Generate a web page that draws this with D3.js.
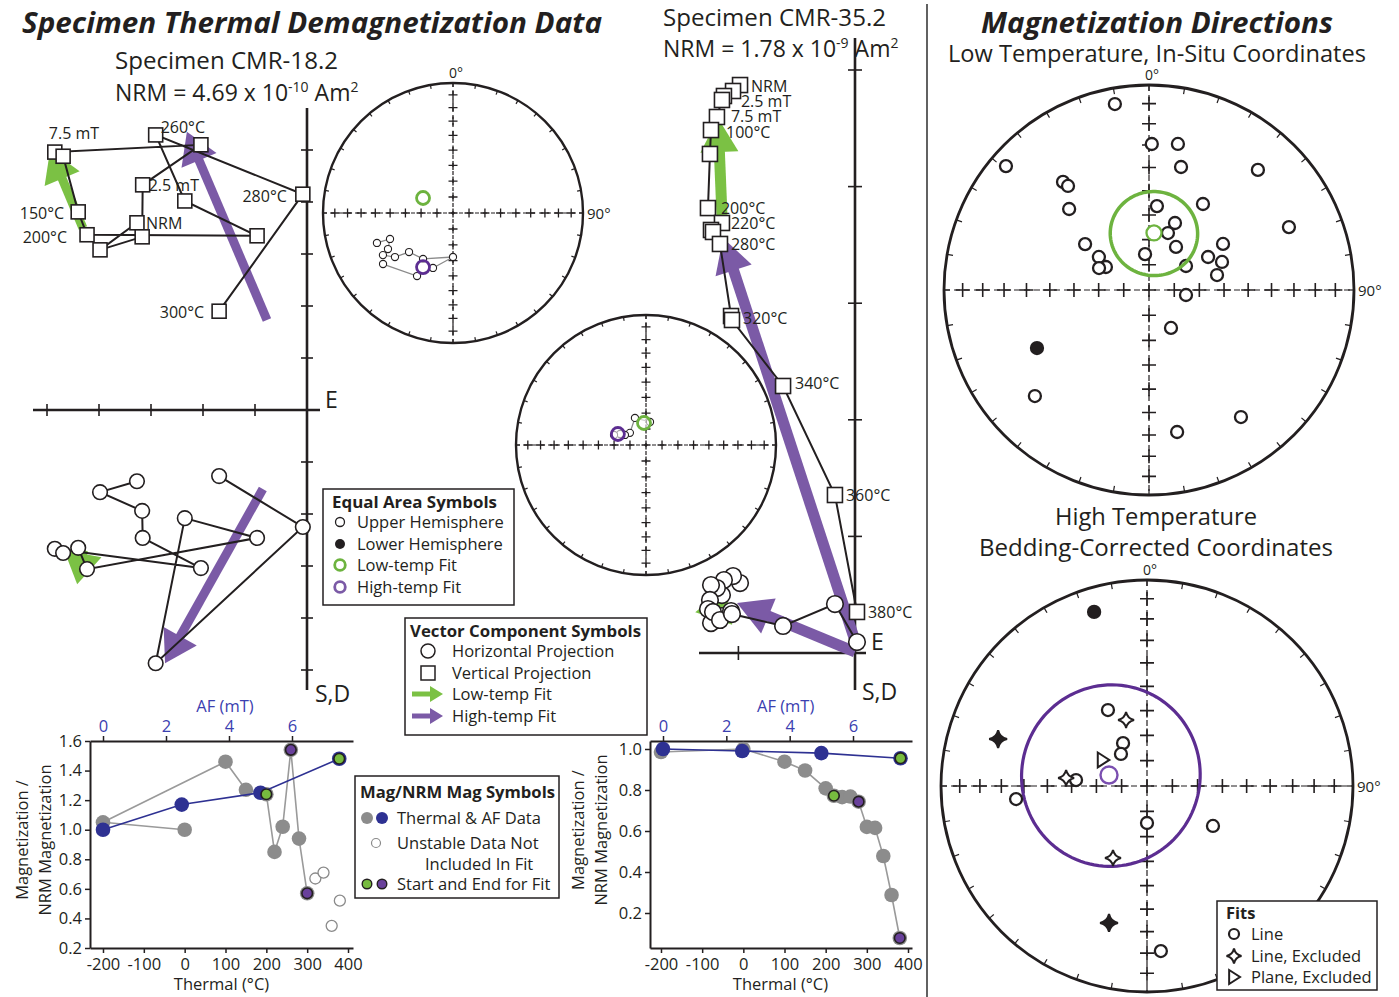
<!DOCTYPE html>
<html>
<head>
<meta charset="utf-8">
<script src="https://cdn.jsdelivr.net/npm/d3@7/dist/d3.min.js"></script>
<style>
  html, body { margin: 0; padding: 0; background: #fff; }
  svg { display: block; }
</style>
</head>
<body>
<svg id="fig" width="1399" height="997" xmlns="http://www.w3.org/2000/svg"></svg>
<script>
const RAD = Math.PI / 180;

/* ================= DATA ================= */

// Specimen CMR-18.2 demagnetization steps (Zijderveld units = one axis tick)
const stepsA      = ["NRM", "LN2", "0°C", "2.5 mT", "5 mT", "7.5 mT", "100°C", "150°C", "200°C", "220°C", "240°C", "260°C", "280°C", "300°C"];
const zijA_h      = [-3.27, -3.98, -3.17, -3.16, -2.04, -4.85, -4.69, -4.40, -4.23, -0.96, -2.35, -2.91, -0.08, -1.69];
const zijA_vert   = [ 3.60,  3.08,  3.33,  4.33,  5.10,  4.96,  4.88,  3.81,  3.37,  3.35,  4.02,  5.29,  4.15,  1.90];
const zijA_horiz  = [-1.37, -1.58, -1.94, -2.46, -3.04, -2.67, -2.75, -2.65, -3.06, -2.46, -2.08, -4.87, -2.25, -1.27];
const labelsA     = ["NRM", "2.5 mT", "7.5 mT", "150°C", "200°C", "260°C", "280°C", "300°C"];
// principal-component fits: [projection, component, fromH, fromV, toH, toV]
const fitsA = [
  ["vert",  "low",  -4.31,  3.50, -4.94,  5.00],
  ["horiz", "low",  -4.30, -2.70, -4.42, -3.35],
  ["vert",  "high", -0.77,  1.73, -2.31,  5.35],
  ["horiz", "high", -0.85, -1.52, -2.73, -4.87]
];

// Specimen CMR-35.2 demagnetization steps
const stepsB      = ["NRM", "LN2", "2.5 mT", "5 mT", "7.5 mT", "100°C", "150°C", "200°C", "220°C", "240°C", "260°C", "280°C", "300°C", "320°C", "340°C", "360°C", "380°C"];
const zijB_h      = [-0.986, -1.046, -1.124, -1.141, -1.184, -1.235, -1.244, -1.261, -1.141, -1.235, -1.218, -1.158, -1.063, -1.055, -0.617, -0.172, 0.017];
const zijB_vert   = [ 4.871,  4.820,  4.777,  4.743,  4.597,  4.485,  4.280,  3.816,  3.688,  3.628,  3.611,  3.508,  2.890,  2.856,  2.290,  1.355, 0.352];
const zijB_horiz  = [ 0.600,  0.660,  0.626,  0.497,  0.557,  0.583,  0.455,  0.377,  0.317,  0.257,  0.352,  0.283,  0.360,  0.334,  0.232,  0.420, 0.094];
const labelsB     = ["NRM", "2.5 mT", "7.5 mT", "100°C", "200°C", "220°C", "280°C", "320°C", "340°C", "360°C", "380°C"];
const fitsB = [
  ["vert",  "low",  -1.141, 3.756, -1.175, 4.588],
  ["horiz", "low",  -1.100, 0.400, -1.370, 0.350],
  ["vert",  "high",  0.026, 0.026, -1.132, 3.559],
  ["horiz", "high",  0.000, 0.009, -1.012, 0.429]
];

// Magnetization / NRM magnetization
const thermalTicks = [-200, -100, 0, 100, 200, 300, 400];
const afTicks      = [0, 2, 4, 6];
const magA_T   = [0, -200, 100, 150, 200, 220, 240, 260, 280, 300];
const magA_Tv  = [1.00, 1.05, 1.46, 1.27, 1.24, 0.85, 1.02, 1.54, 0.94, 0.57];
const magA_AF  = [0, 2.5, 5, 7.5];
const magA_AFv = [1.00, 1.17, 1.25, 1.48];
const magA_unstableT = [320, 340, 360, 380];
const magA_unstableV = [0.67, 0.71, 0.35, 0.52];
const magA_fitT  = [200, 260, 300];
const magA_fitTv = [1.24, 1.54, 0.57];
const magA_fitTc = ["low", "high", "high"];
const magA_fitAF  = [7.5];
const magA_fitAFv = [1.48];
const magA_fitAFc = ["low"];
const magA_yTicks = [0.2, 0.4, 0.6, 0.8, 1.0, 1.2, 1.4, 1.6];

const magB_T   = [-200, 0, 100, 150, 200, 220, 240, 260, 280, 300, 320, 340, 360, 380];
const magB_Tv  = [0.985, 1.00, 0.938, 0.895, 0.808, 0.772, 0.765, 0.768, 0.743, 0.620, 0.615, 0.478, 0.288, 0.078];
const magB_AF  = [0, 2.5, 5, 7.5];
const magB_AFv = [1.00, 0.99, 0.98, 0.955];
const magB_fitT  = [220, 280, 380];
const magB_fitTv = [0.772, 0.743, 0.078];
const magB_fitTc = ["low", "high", "high"];
const magB_fitAF  = [7.5];
const magB_fitAFv = [0.955];
const magB_fitAFc = ["low"];
const magB_yTicks = [0.2, 0.4, 0.6, 0.8, 1.0];

// Equal-area directions (declination, inclination; negative = upper hemisphere)
const net1Dec = [248.5, 247.6, 241.0, 239.0, 232.8, 228.4, 213.1, 180.0, 200.0, 209.7, 233.9];
const net1Inc = [-37.2, -46.5, -42.3, -37.2, -43.3, -52.7, -55.3, -62.3, -52.9, -43.5, -33.8];
const net1Low  = [296.6, -69.0];
const net1High = [209.0, -50.7];

const net2Dec = [9.9, 337.8, 307.0, 295.5, 293.0, 287.4];
const net2Inc = [-75.4, -71.7, -77.4, -75.4, -72.4, -69.0];
const net2Low  = [354.8, -76.2];
const net2High = [291.4, -71.1];

// Low-temperature site directions, in-situ
const lowDec = [349.6, 310.9, 1.1, 11.2, 14.6, 42.2, 321.5, 322.1, 315.4, 5.4, 32.1, 65.8, 21.2, 18.4, 32.1, 305.7,
                303.4, 298.1, 293.7, 353.7, 57.0, 58.1, 60.8, 69.0, 77.6, 97.7, 149.9, 242.6, 227.1, 144.1, 168.8];
const lowInc = [-8.6, -8.5, -29.5, -28.2, -38.0, -22.0, -33.1, -35.9, -43.8, -56.2, -49.0, -26.1, -61.3, -66.1, -69.8, -58.5,
                -66.1, -70.6, -68.3, -75.7, -72.5, -55.0, -63.0, -58.7, -62.2, -75.2, -72.6, 38.4, -25.0, -24.5, -30.1];
const lowMean = [5.0, -67.2, 17.0];   // dec, inc, a95

// High-temperature fits, bedding corrected
const highDec  = [332.8, 330.8, 320.9, 274.8, 264.3, 180.0, 121.2, 175.2, 342.4, 275.6, 205.3, 300.0, 343.1, 287.5, 195.5];
const highInc  = [-55.9, -70.6, -73.7, -61.7, -36.3, -75.4, -59.3, -20.7, -62.5, -57.6, -58.3, -69.4, 12.7, 25.2, 31.6];
const highType = ["line", "line", "line", "line", "line", "line", "line", "line",
                  "lineExcl", "lineExcl", "lineExcl", "plane", "line", "lineExcl", "lineExcl"];
const highMean = [286.1, -74.4, 36.0];

/* ================= STYLE ================= */
const FONT = "'Open Sans','Noto Sans','DejaVu Sans',sans-serif";
const INK = "#231f20";
const ARROW = { low: "#7bc144", high: "#7b5aa6" };
const RING  = { low: "#6db33f", high: "#5c2d91" };
const DOT   = { low: "#77bb3f", high: "#69409b" };
const GRAY = "#8c8c8c", BLUE = "#2e3192", AFBLUE = "#3b40b0";

const svg = d3.select("#fig");

function addText(g, x, y, s, o = {}) {
  const t = g.append("text").attr("x", x).attr("y", y).text(s)
    .attr("font-family", FONT).attr("font-size", o.size || 16.5)
    .attr("fill", o.fill || INK).attr("text-anchor", o.anchor || "start");
  if (o.weight) t.attr("font-weight", o.weight);
  if (o.italic) t.attr("font-style", "italic");
  if (o.len) t.attr("textLength", o.len).attr("lengthAdjust", "spacingAndGlyphs");
  if (o.rotate) t.attr("transform", `rotate(${o.rotate},${x},${y})`);
  return t;
}

// custom d3 symbol types
const star4 = {
  draw(ctx, size) {
    const r = Math.sqrt(size), c = r * 0.18;
    ctx.moveTo(0, -r);
    ctx.quadraticCurveTo(c, -c, r, 0);
    ctx.quadraticCurveTo(c, c, 0, r);
    ctx.quadraticCurveTo(-c, c, -r, 0);
    ctx.quadraticCurveTo(-c, -c, 0, -r);
    ctx.closePath();
  }
};
const triRight = {
  draw(ctx, size) {
    const r = Math.sqrt(size);
    ctx.moveTo(-0.55 * r, -r);
    ctx.lineTo(r * 1.0, 0);
    ctx.lineTo(-0.55 * r, r);
    ctx.closePath();
  }
};

function drawArrow(g, x1, y1, x2, y2, color, shaft, headLen, headW) {
  const dx = x2 - x1, dy = y2 - y1, len = Math.hypot(dx, dy);
  const ux = dx / len, uy = dy / len, px = -uy, py = ux;
  const bx = x2 - ux * headLen, by = y2 - uy * headLen;
  if (len > headLen) {
    g.append("line").attr("x1", x1).attr("y1", y1).attr("x2", bx + ux * 2).attr("y2", by + uy * 2)
      .attr("stroke", color).attr("stroke-width", shaft);
  }
  g.append("path").attr("fill", color)
    .attr("d", `M${x2},${y2}L${bx + px * headW / 2},${by + py * headW / 2}L${bx - px * headW / 2},${by - py * headW / 2}Z`);
}

/* ================= EQUAL-AREA NETS ================= */
function makeNet(n) {
  const g = svg.append("g");
  const rs = d3.scaleSqrt().domain([0, 1]).range([0, n.R]);
  const P = (dec, inc) => {
    const r = rs(1 - Math.sin(Math.abs(inc) * RAD)), a = dec * RAD;
    return [n.cx + r * Math.sin(a), n.cy - r * Math.cos(a)];
  };
  // dashed axes
  g.append("line").attr("x1", n.cx - n.R).attr("x2", n.cx + n.R).attr("y1", n.cy).attr("y2", n.cy)
    .attr("stroke", INK).attr("stroke-width", 1.2).attr("stroke-dasharray", n.dash);
  g.append("line").attr("y1", n.cy - n.R).attr("y2", n.cy + n.R).attr("x1", n.cx).attr("x2", n.cx)
    .attr("stroke", INK).attr("stroke-width", 1.2).attr("stroke-dasharray", n.dash);
  // inclination crosses every 10 degrees
  const crosses = [[n.cx, n.cy]];
  d3.range(10, 90, 10).forEach(inc => [0, 90, 180, 270].forEach(d => crosses.push(P(d, inc))));
  crosses.forEach(([x, y]) => {
    g.append("path").attr("d", `M${x - n.arm},${y}H${x + n.arm}M${x},${y - n.arm}V${y + n.arm}`)
      .attr("stroke", INK).attr("stroke-width", n.crossW);
  });
  // azimuth ticks
  d3.range(0, 360, 10).forEach(d => {
    const a = d * RAD, s = Math.sin(a), c = Math.cos(a);
    g.append("line").attr("x1", n.cx + n.R * s).attr("y1", n.cy - n.R * c)
      .attr("x2", n.cx + (n.R - n.tick) * s).attr("y2", n.cy - (n.R - n.tick) * c)
      .attr("stroke", INK).attr("stroke-width", 1.2);
  });
  g.append("circle").attr("cx", n.cx).attr("cy", n.cy).attr("r", n.R)
    .attr("fill", "none").attr("stroke", INK).attr("stroke-width", n.rim);
  if (n.labels) {
    addText(g, n.cx + 3, n.cy - n.R - 5, "0°", { size: 14, anchor: "middle" });
    addText(g, n.cx + n.R + 4, n.cy + 6, "90°", { size: 15 });
  }
  return { g, P };
}

function conePath(P, dec, inc, a95) {
  const d = dec * RAD, i = inc * RAD, a = a95 * RAD;
  const m = [Math.cos(i) * Math.cos(d), Math.cos(i) * Math.sin(d), Math.sin(i)];
  const u = [-Math.sin(i) * Math.cos(d), -Math.sin(i) * Math.sin(d), Math.cos(i)];
  const v = [-Math.sin(d), Math.cos(d), 0];
  const pts = d3.range(0, 360, 3).map(t => {
    const ct = Math.cos(t * RAD), st = Math.sin(t * RAD);
    const p = [0, 1, 2].map(k => Math.cos(a) * m[k] + Math.sin(a) * (ct * u[k] + st * v[k]));
    return P(Math.atan2(p[1], p[0]) / RAD, Math.asin(Math.max(-1, Math.min(1, p[2]))) / RAD);
  });
  return d3.line().curve(d3.curveLinearClosed)(pts);
}

function stepNet(cfg, decs, incs, low, high) {
  const { g, P } = makeNet(cfg);
  const pts = decs.map((d, i) => P(d, incs[i]));
  g.append("path").attr("d", d3.line()(pts)).attr("fill", "none").attr("stroke", "#8a8a8a").attr("stroke-width", 1.3);
  pts.forEach(([x, y], i) => g.append("circle").attr("cx", x).attr("cy", y).attr("r", 3.6)
    .attr("fill", incs[i] > 0 ? INK : "#fff").attr("stroke", INK).attr("stroke-width", 1.1));
  [[low, "low"], [high, "high"]].forEach(([f, k]) => {
    const [x, y] = P(f[0], f[1]);
    g.append("circle").attr("cx", x).attr("cy", y).attr("r", 6.5).attr("fill", "#fff")
      .attr("fill-opacity", 0.6).attr("stroke", RING[k]).attr("stroke-width", 2.8);
  });
}

const smallNet = { R: 130, rim: 2.4, tick: 4, arm: 4.5, crossW: 1.3, dash: "4,4" };
stepNet({ ...smallNet, cx: 453, cy: 213, labels: true }, net1Dec, net1Inc, net1Low, net1High);
stepNet({ ...smallNet, cx: 646, cy: 445, labels: false }, net2Dec, net2Inc, net2Low, net2High);

// low-temperature site net
{
  const { g, P } = makeNet({ cx: 1149, cy: 290, R: 205, rim: 2.8, tick: 6, arm: 7, crossW: 1.6, dash: "6,4", labels: true });
  lowDec.forEach((d, i) => {
    const [x, y] = P(d, lowInc[i]);
    g.append("circle").attr("cx", x).attr("cy", y).attr("r", 6)
      .attr("fill", lowInc[i] > 0 ? INK : "#fff").attr("stroke", INK).attr("stroke-width", 2.3);
  });
  g.append("path").attr("d", conePath(P, lowMean[0], lowMean[1], lowMean[2]))
    .attr("fill", "none").attr("stroke", RING.low).attr("stroke-width", 3.5);
  const [mx, my] = P(lowMean[0], lowMean[1]);
  g.append("circle").attr("cx", mx).attr("cy", my).attr("r", 7.5).attr("fill", "#fff")
    .attr("stroke", RING.low).attr("stroke-width", 2.3);
}

// high-temperature site net
{
  const { g, P } = makeNet({ cx: 1147, cy: 786, R: 206, rim: 2.8, tick: 6, arm: 7, crossW: 1.6, dash: "6,4", labels: true });
  g.append("path").attr("d", conePath(P, highMean[0], highMean[1], highMean[2]))
    .attr("fill", "none").attr("stroke", RING.high).attr("stroke-width", 3.2);
  const [mx, my] = P(highMean[0], highMean[1]);
  g.append("circle").attr("cx", mx).attr("cy", my).attr("r", 8.5).attr("fill", "#fff")
    .attr("stroke", "#7b4fb0").attr("stroke-width", 2.4);
  highDec.forEach((d, i) => {
    const [x, y] = P(d, highInc[i]);
    const fill = highInc[i] > 0 ? INK : "#fff";
    if (highType[i] === "line") {
      g.append("circle").attr("cx", x).attr("cy", y).attr("r", 6)
        .attr("fill", fill).attr("stroke", INK).attr("stroke-width", 2.3);
    } else {
      const type = highType[i] === "plane" ? triRight : star4;
      const size = highType[i] === "plane" ? 56 : (highInc[i] > 0 ? 80 : 64);
      g.append("path").attr("transform", `translate(${x},${y})`)
        .attr("d", d3.symbol().type(type).size(size)())
        .attr("fill", fill).attr("stroke", INK).attr("stroke-width", 2);
    }
  });
}

/* ================= ZIJDERVELD DIAGRAMS ================= */
function drawZij(z, hs, vert, horiz, steps, labels, fits, offsets) {
  const g = svg.append("g");
  const xs = d3.scaleLinear().domain([0, 1]).range([z.ox, z.ox + z.unit]);
  const ys = d3.scaleLinear().domain([0, 1]).range([z.oy, z.oy - z.unit]);
  g.append("line").attr("x1", z.ox).attr("x2", z.ox).attr("y1", z.vTop).attr("y2", z.vBot)
    .attr("stroke", INK).attr("stroke-width", 2.6);
  g.append("line").attr("x1", z.hLeft).attr("x2", z.hRight).attr("y1", z.oy).attr("y2", z.oy)
    .attr("stroke", INK).attr("stroke-width", 2.6);
  d3.range(-10, 11).filter(k => k !== 0).forEach(k => {
    const y = ys(k), x = xs(k);
    if (y > z.vTop + 10 && y < z.vBot - 10)
      g.append("line").attr("x1", z.ox - z.tk).attr("x2", z.ox + z.tk).attr("y1", y).attr("y2", y)
        .attr("stroke", INK).attr("stroke-width", 1.6);
    if (x > z.hLeft + 10 && x < z.hRight - 10)
      g.append("line").attr("y1", z.oy - z.tk).attr("y2", z.oy + z.tk).attr("x1", x).attr("x2", x)
        .attr("stroke", INK).attr("stroke-width", 1.6);
  });
  fits.forEach(f => drawArrow(g, xs(f[2]), ys(f[3]), xs(f[4]), ys(f[5]), ARROW[f[1]], z.shaft, z.headLen, z.headW));
  const idx = d3.range(hs.length);
  g.append("path").attr("d", d3.line().x(i => xs(hs[i])).y(i => ys(vert[i]))(idx))
    .attr("fill", "none").attr("stroke", INK).attr("stroke-width", 2);
  g.append("path").attr("d", d3.line().x(i => xs(hs[i])).y(i => ys(horiz[i]))(idx))
    .attr("fill", "none").attr("stroke", INK).attr("stroke-width", 2);
  idx.forEach(i => {
    g.append("rect").attr("x", xs(hs[i]) - z.sq / 2).attr("y", ys(vert[i]) - z.sq / 2)
      .attr("width", z.sq).attr("height", z.sq).attr("fill", "#fff").attr("stroke", INK).attr("stroke-width", 1.6);
  });
  idx.forEach(i => {
    g.append("circle").attr("cx", xs(hs[i])).attr("cy", ys(horiz[i])).attr("r", z.cr)
      .attr("fill", "#fff").attr("stroke", INK).attr("stroke-width", 1.6);
  });
  labels.forEach(lab => {
    const i = steps.indexOf(lab), o = offsets[lab];
    addText(g, xs(hs[i]) + o[0], ys(vert[i]) + o[1], lab, { size: 16, anchor: o[2] || "start" });
  });
  addText(g, z.eX, z.eY, "E", { size: 23 });
  addText(g, z.sdX, z.sdY, "S,D", { size: 23 });
}

drawZij({ ox: 307, oy: 410, unit: 52, vTop: 108, vBot: 690, hLeft: 33, hRight: 320, tk: 6,
          sq: 14, cr: 7.3, shaft: 9, headLen: 31, headW: 38, eX: 325, eY: 408, sdX: 315, sdY: 702 },
  zijA_h, zijA_vert, zijA_horiz, stepsA, labelsA, fitsA,
  { "7.5 mT": [-6, -13], "260°C": [5, -2], "2.5 mT": [6, 6], "280°C": [-16, 8, "end"], "150°C": [-14, 7, "end"],
    "NRM": [9, 6], "200°C": [-20, 8, "end"], "300°C": [-15, 7, "end"] });

drawZij({ ox: 855, oy: 653, unit: 116.6, vTop: 38, vBot: 690, hLeft: 699, hRight: 866, tk: 7,
          sq: 15, cr: 8.3, shaft: 11, headLen: 34, headW: 38, eX: 871, eY: 650, sdX: 862, sdY: 700 },
  zijB_h, zijB_vert, zijB_horiz, stepsB, labelsB, fitsB,
  { "NRM": [11, 7], "2.5 mT": [17, 11], "7.5 mT": [14, 5], "100°C": [15, 8], "200°C": [13, 6], "220°C": [9, 6],
    "280°C": [11, 6], "320°C": [11, 4], "340°C": [12, 3], "360°C": [11, 6], "380°C": [11, 6] });

/* ================= MAGNETIZATION CURVES ================= */
function drawMag(c) {
  const g = svg.append("g");
  const xT = d3.scaleLinear().domain(c.tDom).range([c.left, c.right]);
  const xA = d3.scaleLinear().domain(c.afDom).range([c.left, c.right]);
  const y = d3.scaleLinear().domain(c.yDom).range([c.bottom, c.top]);
  const styleAxis = (sel, col) => {
    sel.attr("font-family", FONT).attr("font-size", 16.5);
    sel.select(".domain").attr("stroke", INK).attr("stroke-width", 2);
    sel.selectAll(".tick line").attr("stroke", INK).attr("stroke-width", 1.5);
    sel.selectAll(".tick text").attr("fill", col);
  };
  styleAxis(g.append("g").attr("transform", `translate(0,${c.bottom})`)
    .call(d3.axisBottom(xT).tickValues(thermalTicks).tickFormat(d => String(d)).tickSize(5).tickSizeOuter(0).tickPadding(5)), INK);
  styleAxis(g.append("g").attr("transform", `translate(0,${c.top})`)
    .call(d3.axisTop(xA).tickValues(afTicks).tickFormat(d => String(d)).tickSize(5).tickSizeOuter(0).tickPadding(4)), AFBLUE);
  styleAxis(g.append("g").attr("transform", `translate(${c.left},0)`)
    .call(d3.axisLeft(y).tickValues(c.yTicks).tickFormat(d3.format(".1f")).tickSize(5).tickSizeOuter(0).tickPadding(3)), INK);

  const lt = d3.line().x((d, i) => xT(c.T[i])).y((d, i) => y(c.Tv[i]));
  const la = d3.line().x((d, i) => xA(c.AF[i])).y((d, i) => y(c.AFv[i]));
  g.append("path").attr("d", lt(c.T)).attr("fill", "none").attr("stroke", "#9a9a9a").attr("stroke-width", 1.6);
  c.T.forEach((t, i) => g.append("circle").attr("cx", xT(t)).attr("cy", y(c.Tv[i])).attr("r", 7.3).attr("fill", GRAY));
  g.append("path").attr("d", la(c.AF)).attr("fill", "none").attr("stroke", BLUE).attr("stroke-width", 1.6);
  c.AF.forEach((a, i) => g.append("circle").attr("cx", xA(a)).attr("cy", y(c.AFv[i])).attr("r", 7.3).attr("fill", BLUE));
  (c.uT || []).forEach((t, i) => g.append("circle").attr("cx", xT(t)).attr("cy", y(c.uV[i])).attr("r", 5.5)
    .attr("fill", "#fff").attr("stroke", "#8a8a8a").attr("stroke-width", 1.3));
  c.fT.forEach((t, i) => g.append("circle").attr("cx", xT(t)).attr("cy", y(c.fTv[i])).attr("r", 5.3)
    .attr("fill", DOT[c.fTc[i]]).attr("stroke", INK).attr("stroke-width", 1.6));
  c.fA.forEach((a, i) => g.append("circle").attr("cx", xA(a)).attr("cy", y(c.fAv[i])).attr("r", 5.3)
    .attr("fill", DOT[c.fAc[i]]).attr("stroke", INK).attr("stroke-width", 1.6));

  addText(g, c.labX1, c.labY, "Magnetization /", { size: 16.5, anchor: "middle", rotate: -90 });
  addText(g, c.labX2, c.labY, "NRM Magnetization", { size: 16.5, anchor: "middle", rotate: -90 });
  addText(g, xA(4) - 4, 712, "AF (mT)", { size: 16.5, anchor: "middle", fill: AFBLUE });
  addText(g, xT(100) - 4, 990, "Thermal (°C)", { size: 16.5, anchor: "middle" });
}

drawMag({ left: 90, right: 353, top: 741, bottom: 948, tDom: [-231.8, 412.2], afDom: [-0.413, 7.937], yDom: [0.2, 1.6],
  yTicks: magA_yTicks, T: magA_T, Tv: magA_Tv, AF: magA_AF, AFv: magA_AFv, uT: magA_unstableT, uV: magA_unstableV,
  fT: magA_fitT, fTv: magA_fitTv, fTc: magA_fitTc, fA: magA_fitAF, fAv: magA_fitAFv, fAc: magA_fitAFc,
  labX1: 28, labX2: 51, labY: 840 });
drawMag({ left: 650, right: 912, top: 741, bottom: 948, tDom: [-226.7, 409.7], afDom: [-0.4105, 7.863], yDom: [0.0293, 1.039],
  yTicks: magB_yTicks, T: magB_T, Tv: magB_Tv, AF: magB_AF, AFv: magB_AFv,
  fT: magB_fitT, fTv: magB_fitTv, fTc: magB_fitTc, fA: magB_fitAF, fAv: magB_fitAFv, fAc: magB_fitAFc,
  labX1: 584, labX2: 607, labY: 830 });

/* ================= LEGENDS ================= */
function box(x, y, w, h) {
  return svg.append("rect").attr("x", x).attr("y", y).attr("width", w).attr("height", h)
    .attr("fill", "#fff").attr("stroke", INK).attr("stroke-width", 1.5);
}
{
  box(323, 489, 191, 116);
  const g = svg.append("g");
  addText(g, 332, 508, "Equal Area Symbols", { weight: 700, size: 16.5, len: 165 });
  const rows = [522, 544, 565, 587];
  g.append("circle").attr("cx", 340).attr("cy", rows[0]).attr("r", 4.5).attr("fill", "#fff").attr("stroke", INK).attr("stroke-width", 1.3);
  g.append("circle").attr("cx", 340).attr("cy", rows[1]).attr("r", 5).attr("fill", INK);
  g.append("circle").attr("cx", 340).attr("cy", rows[2]).attr("r", 5.3).attr("fill", "none").attr("stroke", RING.low).attr("stroke-width", 2.8);
  g.append("circle").attr("cx", 340).attr("cy", rows[3]).attr("r", 5.3).attr("fill", "none").attr("stroke", ARROW.high).attr("stroke-width", 2.8);
  ["Upper Hemisphere", "Lower Hemisphere", "Low-temp Fit", "High-temp Fit"].forEach((s, i) => addText(g, 357, rows[i] + 6, s));
}
{
  box(405, 618, 242, 117);
  const g = svg.append("g");
  addText(g, 410, 637, "Vector Component Symbols", { weight: 700, size: 16.5, len: 231 });
  const rows = [651, 673, 694, 716];
  g.append("circle").attr("cx", 428).attr("cy", rows[0]).attr("r", 7).attr("fill", "#fff").attr("stroke", INK).attr("stroke-width", 1.5);
  g.append("rect").attr("x", 421).attr("y", rows[1] - 7).attr("width", 14).attr("height", 14).attr("fill", "#fff").attr("stroke", INK).attr("stroke-width", 1.5);
  drawArrow(g, 412, rows[2], 443, rows[2], ARROW.low, 5, 13, 16);
  drawArrow(g, 412, rows[3], 443, rows[3], ARROW.high, 5, 13, 16);
  ["Horizontal Projection", "Vertical Projection", "Low-temp Fit", "High-temp Fit"].forEach((s, i) => addText(g, 452, rows[i] + 6, s));
}
{
  box(355, 776, 204, 122);
  const g = svg.append("g");
  addText(g, 360, 798, "Mag/NRM Mag Symbols", { weight: 700, size: 16.5, len: 195 });
  g.append("circle").attr("cx", 367).attr("cy", 818).attr("r", 6).attr("fill", GRAY);
  g.append("circle").attr("cx", 382).attr("cy", 818).attr("r", 6).attr("fill", BLUE);
  g.append("circle").attr("cx", 376).attr("cy", 843).attr("r", 4.5).attr("fill", "#fff").attr("stroke", "#8a8a8a").attr("stroke-width", 1.2);
  g.append("circle").attr("cx", 367).attr("cy", 884).attr("r", 4.8).attr("fill", DOT.low).attr("stroke", INK).attr("stroke-width", 1.4);
  g.append("circle").attr("cx", 382).attr("cy", 884).attr("r", 4.8).attr("fill", DOT.high).attr("stroke", INK).attr("stroke-width", 1.4);
  addText(g, 397, 824, "Thermal & AF Data");
  addText(g, 397, 849, "Unstable Data Not");
  addText(g, 425, 870, "Included In Fit");
  addText(g, 397, 890, "Start and End for Fit");
}
{
  box(1217, 901, 160, 89);
  const g = svg.append("g");
  addText(g, 1226, 919, "Fits", { weight: 700, size: 16.5 });
  g.append("circle").attr("cx", 1234).attr("cy", 934).attr("r", 5).attr("fill", "#fff").attr("stroke", INK).attr("stroke-width", 2.2);
  g.append("path").attr("transform", "translate(1234,956)").attr("d", d3.symbol().type(star4).size(56)())
    .attr("fill", "#fff").attr("stroke", INK).attr("stroke-width", 2);
  g.append("path").attr("transform", "translate(1233,977)").attr("d", d3.symbol().type(triRight).size(49)())
    .attr("fill", "#fff").attr("stroke", INK).attr("stroke-width", 2);
  addText(g, 1251, 940, "Line");
  addText(g, 1251, 962, "Line, Excluded");
  addText(g, 1251, 983, "Plane, Excluded");
}

/* ================= HEADINGS ================= */
{
  const g = svg.append("g");
  addText(g, 22, 33, "Specimen Thermal Demagnetization Data", { size: 29, weight: 700, italic: true, len: 580 });
  addText(g, 981, 33, "Magnetization Directions", { size: 29, weight: 700, italic: true, len: 352 });
  addText(g, 948, 62, "Low Temperature, In-Situ Coordinates", { size: 23, len: 418 });
  addText(g, 1055, 525, "High Temperature", { size: 23, len: 202 });
  addText(g, 979, 556, "Bedding-Corrected Coordinates", { size: 23, len: 354 });
  addText(g, 115, 69, "Specimen CMR-18.2", { size: 23, len: 223 });
  addText(g, 663, 26, "Specimen CMR-35.2", { size: 23, len: 223 });
  const nrm = (x, y, mant, exp) => {
    const t = g.append("text").attr("x", x).attr("y", y).attr("font-family", FONT).attr("font-size", 23).attr("fill", INK);
    t.append("tspan").text(`NRM = ${mant} x 10`);
    t.append("tspan").attr("dy", -9).attr("font-size", 14).text(exp);
    t.append("tspan").attr("dy", 9).text(" Am");
    t.append("tspan").attr("dy", -9).attr("font-size", 14).text("2");
  };
  nrm(115, 101, "4.69", "-10");
  nrm(663, 57, "1.78", "-9");
  svg.append("line").attr("x1", 927).attr("x2", 927).attr("y1", 4).attr("y2", 997)
    .attr("stroke", "#3a3a3a").attr("stroke-width", 1.6);
}
</script>
</body>
</html>
